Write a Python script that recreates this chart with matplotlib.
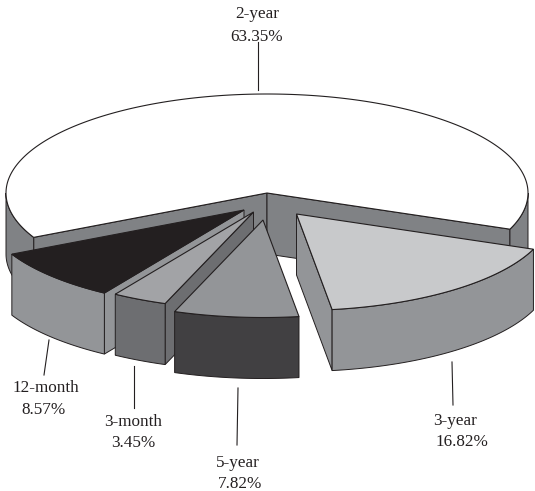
import numpy as np
import matplotlib
matplotlib.use('Agg')
import matplotlib.pyplot as plt
from matplotlib.patches import Polygon

# DATA (drawing order, clockwise from the right)
names = ['3-year', '5-year', '3-month', '12-month', '2-year']
values = [16.82, 7.82, 3.45, 8.57, 63.35]

# STYLE
top_colors = ['#c8c9cb', '#939598', '#a2a3a6', '#231f20', '#ffffff']
outer_colors = ['#939598', '#414042', '#6d6e71', '#939598', '#808285']
side_colors = ['#939598', '#414042', '#6d6e71', '#939598', '#808285']
line_color = '#231f20'

# GEOMETRY in pixels
cx, cy = 267, 193
rx, ry = 261, 99
depth = 61
start_angle = 21.4
offsets = {'3-year': (29.5, 21), '5-year': (-4, 27), '3-month': (-13.5, 19),
           '12-month': (-23, 17), '2-year': (0, 0)}
scales = {'3-year': 0.975, '5-year': 0.985, '3-month': 0.985, '12-month': 0.995, '2-year': 1.0}

label_pos = {'2-year': (257, 14, 257, 37), '3-year': (455, 421, 462, 442),
             '5-year': (238, 463, 240, 484), '3-month': (133, 422, 133, 443),
             '12-month': (46, 388, 44, 410)}
leaders = {'2-year': (258, 42, 258, 90), '3-year': (452, 362, 453, 405),
           '5-year': (238, 388, 237, 445), '3-month': (134, 366, 134, 408),
           '12-month': (49, 340, 44, 375)}

plt.rcParams['font.family'] = ['Liberation Serif', 'DejaVu Serif']

fig = plt.figure(figsize=(5.35, 4.91), dpi=100)
ax = fig.add_axes([0, 0, 1, 1])
ax.set_xlim(0, 535)
ax.set_ylim(491, 0)
ax.axis('off')


def point(t, name):
    dx, dy = offsets[name]
    s = scales[name]
    return (cx + dx + s * rx * np.cos(np.radians(t)),
            cy + dy + s * ry * np.sin(np.radians(t)))


def wall(t, name, color):
    # flat cut face from the centre out to the rim
    dx, dy = offsets[name]
    x, y = point(t, name)
    pts = [(cx + dx, cy + dy), (x, y), (x, y + depth), (cx + dx, cy + dy + depth)]
    ax.add_patch(Polygon(pts, closed=True, fc=color, ec=line_color, lw=0.7))


def outer(t0, t1, name, color):
    # curved rim, only the part facing the viewer
    ts = np.linspace(t0, t1, 80)
    x, y = point(ts, name)
    pts = list(zip(x, y)) + list(zip(x[::-1], y[::-1] + depth))
    ax.add_patch(Polygon(pts, closed=True, fc=color, ec=line_color, lw=0.7))


angles = start_angle + np.concatenate(([0], np.cumsum(values))) * 3.6

# back to front order
order = [4, 3, 2, 1, 0]
for i in order:
    name = names[i]
    t0, t1 = angles[i], angles[i + 1]
    dx, dy = offsets[name]

    if 90 < t0 < 270:
        wall(t0, name, side_colors[i])
    if t1 % 360 < 90 or t1 % 360 > 270:
        wall(t1, name, side_colors[i])

    if t1 <= 180:
        outer(t0, t1, name, outer_colors[i])
    else:
        # big slice wraps round the back, two visible bits of rim
        outer(t0, 180, name, outer_colors[i])
        outer(360, t1, name, outer_colors[i])

    ts = np.linspace(t0, t1, 300)
    x, y = point(ts, name)
    pts = [(cx + dx, cy + dy)] + list(zip(x, y))
    ax.add_patch(Polygon(pts, closed=True, fc=top_colors[i], ec=line_color, lw=0.8, joinstyle='miter'))

for name, value in zip(names, values):
    x0, y0, x1, y1 = leaders[name]
    ax.plot([x0, x1], [y0, y1], color=line_color, lw=0.8)
    nx, ny, vx, vy = label_pos[name]
    ax.text(nx, ny, name, ha='center', va='center', fontsize=12.3, color=line_color)
    ax.text(vx, vy, f'{value:.2f}%', ha='center', va='center', fontsize=12.3, color=line_color)

fig.savefig('out.png', dpi=100)
